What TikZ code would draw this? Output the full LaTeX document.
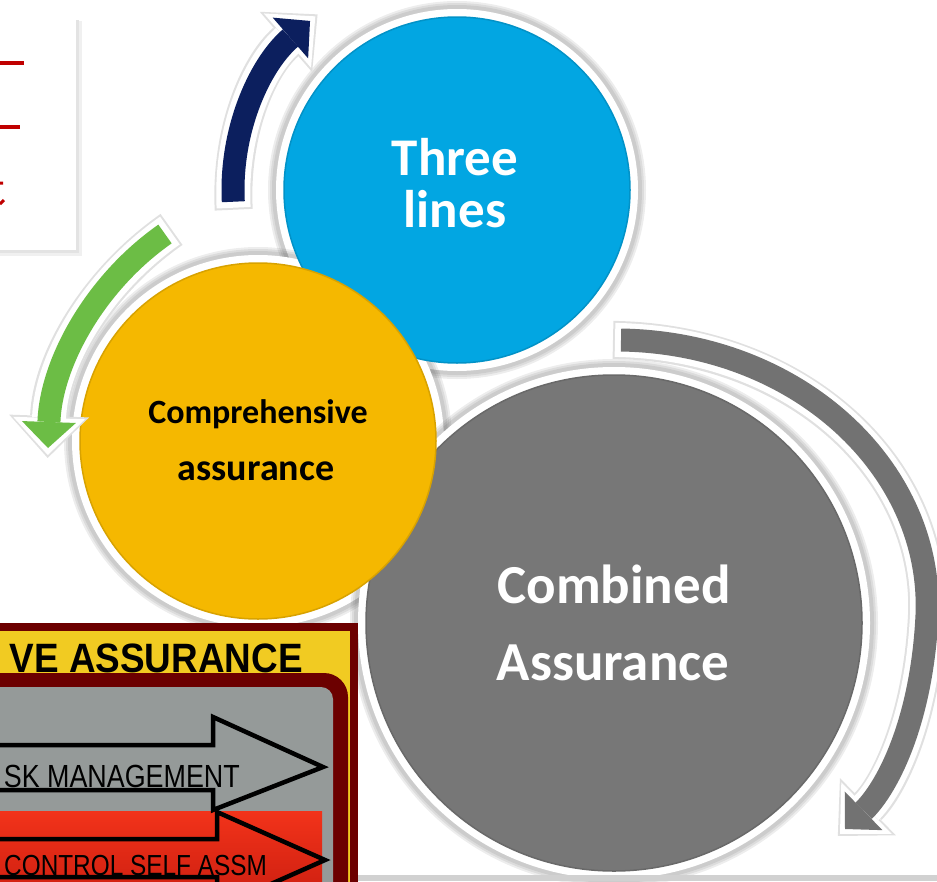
\documentclass[tikz,border=0pt]{standalone}
\usepackage{fontspec}
\newfontfamily\calib{Carlito}
\newfontfamily\arialf{Liberation Sans}
\usetikzlibrary{positioning,arrows.meta,backgrounds}

\definecolor{tlblue}{HTML}{02A6E2}
\definecolor{cayellow}{HTML}{F5B800}
\definecolor{cbgray}{HTML}{777777}
\definecolor{navy}{HTML}{0C1F5E}
\definecolor{leaf}{HTML}{6CBD45}
\definecolor{arcgray}{HTML}{727272}
\definecolor{maroon}{HTML}{6C0000}
\definecolor{bandyellow}{HTML}{F1CB22}
\definecolor{panel}{HTML}{959A99}
\definecolor{redtop}{HTML}{F2331A}
\definecolor{redbot}{HTML}{CC1E10}
\definecolor{penred}{HTML}{C00000}

\tikzset{
  disc/.style={circle, inner sep=0pt, fill=#1, draw=#1!88!black, line width=1.5pt},
  lbl/.style={inner sep=0pt, font=\calib\bfseries\fontsize{#1}{#1}\selectfont},
  arcshadow/.style={draw=black!12, line width=38pt,
    -{Triangle[width=80pt 0,length=42pt 0 0,line width=0pt 0]},
    shorten >=-10pt, shorten <=-8pt},
  archalo/.style={draw=white, line width=34pt,
    -{Triangle[width=72pt 0,length=37pt 0 0,line width=0pt 0]},
    shorten >=-7pt, shorten <=-6pt},
  arcbody/.style={draw=#1, line width=23pt,
    -{Triangle[width=54pt 0,length=26pt 0 0,line width=0pt 0]}},
  blockarrow/.style={draw=black, line width=4.5pt, line join=miter},
  caps/.style={inner sep=0pt, anchor=base east, transform shape},
}

\begin{document}
\begin{tikzpicture}[x=1pt,y=-1pt]
\useasboundingbox (0,0) rectangle (937,881);
\clip (0,0) rectangle (937,881);

% note card, top left
\fill[black!6] (-10,21) rectangle (82,256);
\fill[black!11] (-10,20) rectangle (79,253);
\fill[white] (-10,18) rectangle (76,250);
\draw[penred, line width=3.5pt] (0,63) -- (24,63) (0,127) -- (20,127);
\draw[penred, line width=3pt] (0,183) -- (3,183) (0,204) -- (4,200);

% the three discs
\node[disc=tlblue, minimum size=346pt] (lines) at (457,190) {};
\node[disc=cbgray, minimum size=496pt] (comb) at (614,623) {};
\node[disc=cayellow, minimum size=356pt] (compr) at (258,441) {};

\begin{scope}[on background layer]
  \foreach \n/\r in {lines/173,compr/178,comb/248}{
    \foreach \k in {16,14,12}{
      \pgfmathsetmacro\rr{\r+\k}
      \fill[black, opacity=.07] (\n.center) circle[radius=\rr];
    }
    \pgfmathsetmacro\rw{\r+8}
    \fill[white] (\n.center) circle[radius=\rw];
  }
\end{scope}

\node[lbl=53, text=white, above=15pt of lines.center, anchor=base, xshift=-2pt] (lines-a) {Three};
\node[lbl=53, text=white, below=37pt of lines.center, anchor=base, xshift=-2pt] (lines-b) {lines};
\node[lbl=34, above=18pt of compr.center, anchor=base] (compr-a) {Comprehensive};
\node[lbl=38, below=39pt of compr.center, anchor=base, xshift=-2pt] (compr-b) {assurance};
\node[lbl=55, text=white, above=20pt of comb.center, anchor=base] (comb-a) {Combined};
\node[lbl=55, text=white, below=57pt of comb.center, anchor=base, xshift=-1pt] (comb-b) {Assurance};

% cycle arrows
\coordinate (g-tail) at (165,234);
\coordinate (g-head) at (48,448);
\coordinate (k-tail) at (621,340);
\coordinate (k-mid) at (927,615);
\coordinate (k-head) at (845,829);
\foreach \lay in {arcshadow,archalo}{
  \draw[\lay] (lines.center) ++(177:224) arc[start angle=177, end angle=229, radius=224];
  \draw[\lay] (g-tail) .. controls +(-70,49) and +(3,-85) .. (g-head);
  \draw[\lay] (k-tail) .. controls +(179,3) and +(6,-145) .. (k-mid)
                       .. controls +(-5,105) and +(43,-42) .. (k-head);
}
\draw[arcbody=navy] (lines.center) ++(177:224) arc[start angle=177, end angle=229, radius=224];
\draw[arcbody=leaf] (g-tail) .. controls +(-70,49) and +(3,-85) .. (g-head);
\draw[arcbody=arcgray] (k-tail) .. controls +(179,3) and +(6,-145) .. (k-mid)
                       .. controls +(-5,105) and +(43,-42) .. (k-head);

% assurance panel, bottom left
\fill[maroon] (-10,623) rectangle (358,900);
\fill[bandyellow] (-10,631) rectangle (350,900);
\fill[maroon, rounded corners=24pt] (-40,673) rectangle (348,930);
\fill[panel, rounded corners=12pt] (-40,687) rectangle (333,930);
\node[caps, xscale=.9, font=\arialf\bfseries\fontsize{41}{41}\selectfont] (ttl) at (303,672) {VE ASSURANCE};
\shade[top color=redtop, bottom color=redbot] (-10,811) rectangle (322,900);
\draw[blockarrow] (-10,839) -- (217,839) -- (217,812) -- (325,860) -- (217,908) -- (217,877) -- (-10,877);
\draw[blockarrow, fill=panel] (-10,745) -- (213,745) -- (213,717) -- (323,767) -- (213,810) -- (213,790) -- (-10,790);
\node[caps, xscale=.84, font=\arialf\fontsize{32}{32}\selectfont] (risk) at (240,787) {SK MANAGEMENT};
\node[caps, xscale=.84, font=\arialf\fontsize{29}{29}\selectfont] (csa) at (267,875) {CONTROL SELF ASSM};

% strip along the bottom edge
\fill[black!18] (358,875) rectangle (937,881);
\end{tikzpicture}
\end{document}
